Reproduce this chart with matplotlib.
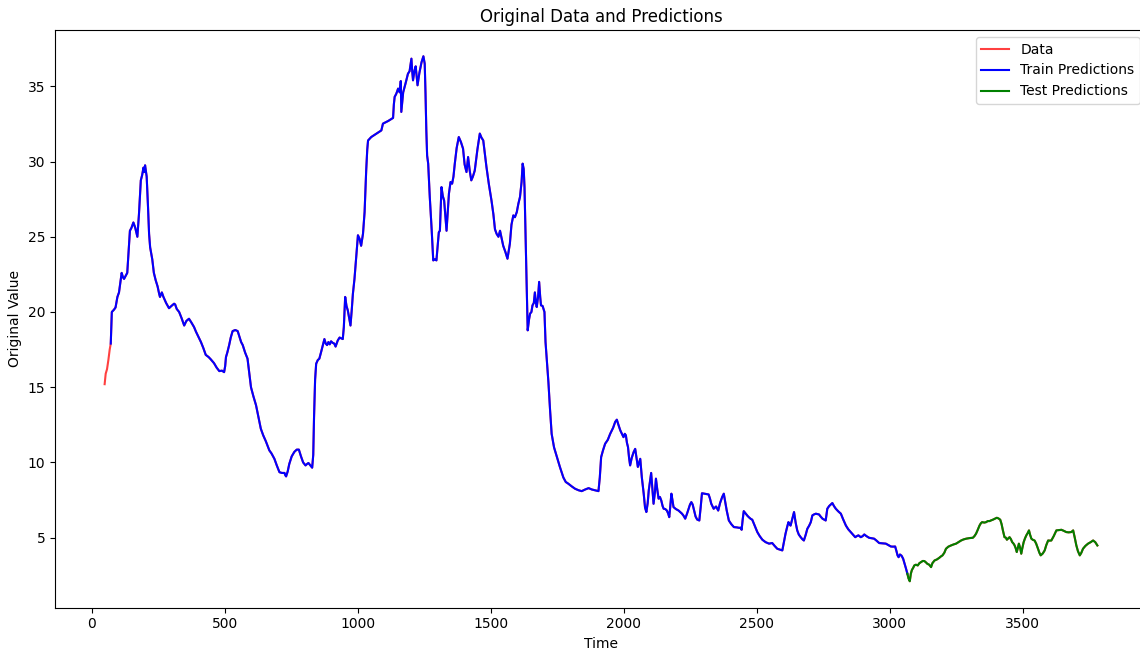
import matplotlib
matplotlib.use("Agg")
import matplotlib.pyplot as plt
import numpy as np

# ---- data ----
time = [
    49, 53, 58, 63, 68, 72, 76, 84, 90, 97, 103, 113, 118, 122, 128, 134, 139, 144, 150, 157,
    164, 172, 178, 185, 190, 195, 198, 201, 207, 212, 216, 220, 228, 234, 241, 248, 254, 257, 264, 270,
    280, 291, 300, 310, 314, 320, 329, 338, 348, 356, 366, 375, 385, 392, 400, 411, 420, 429, 440, 448,
    460, 470, 480, 490, 498, 502, 505, 510, 517, 523, 530, 540, 549, 555, 562, 568, 577, 586, 592, 599,
    608, 618, 626, 636, 645, 655, 668, 676, 687, 696, 706, 715, 725, 728, 731, 737, 743, 752, 762, 771,
    779, 787, 795, 804, 810, 815, 822, 829, 833, 836, 840, 844, 850, 856, 862, 869, 875, 880, 885, 890,
    895, 900, 906, 912, 917, 925, 932, 938, 944, 948, 953, 958, 963, 968, 973, 978, 982, 988, 994, 1001,
    1007, 1013, 1020, 1026, 1032, 1036, 1039, 1051, 1070, 1089, 1095, 1115, 1133, 1136, 1139, 1145, 1152, 1158, 1162, 1164,
    1171, 1180, 1189, 1195, 1202, 1205, 1208, 1213, 1218, 1225, 1232, 1240, 1247, 1252, 1255, 1258, 1261, 1265, 1271, 1278,
    1284, 1290, 1296, 1300, 1305, 1309, 1315, 1320, 1325, 1334, 1339, 1343, 1349, 1355, 1360, 1365, 1372, 1380, 1388, 1396,
    1402, 1409, 1415, 1421, 1427, 1433, 1440, 1450, 1459, 1465, 1472, 1478, 1484, 1493, 1503, 1510, 1516, 1522, 1529, 1535,
    1541, 1547, 1555, 1563, 1568, 1572, 1578, 1585, 1591, 1598, 1604, 1610, 1616, 1620, 1624, 1627, 1631, 1635, 1639, 1644,
    1648, 1653, 1657, 1662, 1666, 1670, 1673, 1678, 1682, 1686, 1689, 1695, 1702, 1706, 1712, 1717, 1723, 1729, 1738, 1748,
    1760, 1773, 1782, 1792, 1805, 1817, 1830, 1842, 1855, 1868, 1880, 1892, 1905, 1910, 1915, 1922, 1930, 1940, 1949, 1960,
    1968, 1974, 1980, 1987, 1993, 1999, 2004, 2008, 2012, 2016, 2020, 2024, 2030, 2037, 2043, 2048, 2053, 2058, 2062, 2068,
    2075, 2080, 2085, 2090, 2094, 2099, 2103, 2108, 2112, 2117, 2121, 2126, 2131, 2136, 2141, 2146, 2150, 2156, 2162, 2167,
    2171, 2175, 2179, 2183, 2187, 2196, 2206, 2212, 2219, 2225, 2231, 2238, 2244, 2249, 2254, 2259, 2263, 2270, 2276, 2284,
    2289, 2294, 2304, 2310, 2319, 2324, 2329, 2338, 2347, 2355, 2362, 2370, 2376, 2380, 2387, 2395, 2404, 2414, 2425, 2434,
    2439, 2443, 2447, 2451, 2458, 2465, 2470, 2477, 2483, 2492, 2502, 2511, 2521, 2533, 2546, 2558, 2567, 2577, 2587, 2596,
    2602, 2608, 2614, 2619, 2623, 2627, 2634, 2640, 2646, 2652, 2658, 2665, 2671, 2677, 2684, 2690, 2697, 2703, 2709, 2716,
    2722, 2734, 2740, 2747, 2753, 2759, 2765, 2772, 2778, 2784, 2790, 2797, 2806, 2816, 2825, 2835, 2844, 2853, 2862, 2870,
    2876, 2882, 2891, 2898, 2904, 2912, 2922, 2931, 2941, 2950, 2960, 2972, 2985, 2995, 3004, 3012, 3020, 3025, 3029, 3033,
    3038, 3044, 3050, 3055, 3061, 3066, 3070, 3075, 3079, 3083, 3088, 3092, 3098, 3105, 3111, 3117, 3124, 3130, 3136, 3141,
    3148, 3155, 3160, 3168, 3177, 3186, 3192, 3198, 3205, 3211, 3220, 3230, 3240, 3249, 3258, 3268, 3277, 3287, 3300, 3312,
    3318, 3324, 3330, 3337, 3342, 3347, 3355, 3362, 3368, 3375, 3381, 3387, 3394, 3402, 3408, 3415, 3420, 3425, 3431, 3436,
    3440, 3445, 3450, 3455, 3460, 3465, 3469, 3473, 3477, 3481, 3485, 3490, 3494, 3498, 3503, 3508, 3513, 3518, 3523, 3527,
    3532, 3538, 3544, 3550, 3557, 3562, 3567, 3575, 3582, 3588, 3595, 3601, 3607, 3616, 3626, 3635, 3645, 3654, 3663, 3672,
    3682, 3689, 3695, 3701, 3707, 3714, 3720, 3726, 3735, 3745, 3755, 3764, 3772, 3780,
]
values = [
    15.2, 15.9, 16.2, 16.8, 17.5, 17.9, 20.0, 20.15, 20.3, 21.0, 21.3, 22.6, 22.3, 22.2, 22.4, 22.6, 24.0, 25.4, 25.6, 25.95,
    25.6, 25.0, 26.5, 28.75, 29.1, 29.6, 29.3, 29.75, 29.0, 27.0, 25.2, 24.3, 23.5, 22.6, 22.1, 21.7, 21.2, 21.0, 21.3, 21.0,
    20.6, 20.25, 20.4, 20.55, 20.5, 20.2, 20.0, 19.6, 19.1, 19.4, 19.55, 19.3, 19.0, 18.7, 18.4, 18.0, 17.6, 17.15, 17.0, 16.85,
    16.6, 16.3, 16.07, 16.1, 16.0, 16.4, 17.0, 17.3, 17.8, 18.3, 18.73, 18.8, 18.73, 18.4, 18.0, 17.8, 17.3, 16.9, 16.0, 15.0,
    14.4, 13.8, 13.1, 12.24, 11.8, 11.4, 10.8, 10.6, 10.24, 9.8, 9.35, 9.3, 9.3, 9.15, 9.07, 9.4, 9.9, 10.4, 10.7, 10.85,
    10.85, 10.4, 10.0, 9.8, 9.9, 9.96, 9.8, 9.65, 10.5, 13.0, 15.5, 16.56, 16.8, 16.9, 17.3, 17.8, 18.2, 17.9, 17.8, 18.0,
    17.85, 18.05, 17.95, 17.9, 17.7, 18.1, 18.3, 18.25, 18.2, 19.0, 21.0, 20.4, 20.1, 19.6, 19.1, 20.2, 21.2, 22.2, 23.5, 25.1,
    24.87, 24.4, 25.2, 26.64, 29.4, 30.8, 31.4, 31.63, 31.85, 32.07, 32.52, 32.7, 32.9, 33.8, 34.3, 34.5, 34.85, 34.6, 35.35, 33.3,
    34.6, 35.2, 35.84, 36.0, 36.84, 36.0, 35.4, 36.0, 36.33, 35.07, 35.9, 36.6, 37.0, 36.5, 34.5, 32.07, 30.4, 29.86, 27.64, 25.5,
    23.43, 23.5, 23.43, 24.3, 25.3, 25.4, 28.3, 27.7, 27.4, 25.4, 26.8, 27.87, 28.64, 28.53, 29.0, 29.86, 30.9, 31.63, 31.3, 30.86,
    29.8, 29.3, 30.3, 29.4, 28.75, 29.0, 29.4, 30.8, 31.86, 31.6, 31.4, 30.5, 29.64, 28.5, 27.4, 26.5, 25.5, 25.2, 25.0, 25.4,
    24.9, 24.4, 24.0, 23.54, 24.1, 24.54, 25.8, 26.42, 26.3, 26.64, 27.2, 27.64, 28.64, 29.86, 29.5, 28.3, 25.0, 21.88, 18.78, 19.5,
    19.89, 20.0, 20.44, 20.6, 21.3, 20.6, 20.33, 21.0, 22.0, 21.0, 20.44, 20.4, 20.0, 18.0, 16.5, 15.3, 13.5, 11.9, 11.0, 10.4,
    9.7, 9.0, 8.7, 8.58, 8.4, 8.25, 8.15, 8.09, 8.2, 8.29, 8.2, 8.15, 8.09, 9.0, 10.35, 10.8, 11.24, 11.5, 11.9, 12.3,
    12.7, 12.84, 12.5, 12.13, 11.9, 11.68, 11.9, 11.8, 11.3, 11.02, 10.3, 9.8, 10.3, 10.68, 10.9, 10.3, 9.7, 10.0, 10.24, 9.0,
    7.92, 7.0, 6.7, 7.3, 8.14, 8.8, 9.3, 8.2, 7.25, 8.0, 8.92, 8.2, 7.59, 7.7, 7.47, 7.1, 6.92, 6.9, 6.8, 6.6,
    6.36, 7.1, 7.92, 7.5, 7.03, 6.9, 6.8, 6.7, 6.59, 6.45, 6.26, 6.6, 6.92, 7.2, 7.36, 7.2, 6.92, 6.4, 6.2, 6.14,
    7.0, 7.95, 7.92, 7.9, 7.87, 7.6, 7.25, 6.92, 7.07, 6.8, 7.3, 7.7, 7.92, 7.5, 6.8, 6.14, 5.9, 5.7, 5.68, 5.65,
    5.66, 5.52, 6.2, 6.76, 6.6, 6.45, 6.36, 6.25, 6.19, 5.8, 5.37, 5.1, 4.86, 4.7, 4.6, 4.64, 4.45, 4.26, 4.2, 4.15,
    4.7, 5.26, 5.7, 6.03, 5.9, 5.8, 6.3, 6.7, 6.0, 5.48, 5.2, 5.03, 4.9, 4.81, 5.2, 5.59, 5.8, 6.03, 6.48, 6.55,
    6.59, 6.54, 6.4, 6.26, 6.2, 6.14, 6.92, 7.1, 7.2, 7.3, 7.1, 6.92, 6.75, 6.59, 6.2, 5.8, 5.55, 5.37, 5.2, 5.03,
    5.1, 5.15, 5.03, 5.1, 5.21, 5.1, 4.99, 4.96, 4.93, 4.8, 4.64, 4.62, 4.6, 4.5, 4.41, 4.4, 4.41, 4.1, 3.82, 3.7,
    3.88, 3.8, 3.6, 3.3, 2.93, 2.6, 2.3, 2.1, 2.6, 2.85, 3.0, 3.15, 3.2, 3.15, 3.3, 3.37, 3.45, 3.44, 3.35, 3.26,
    3.2, 3.04, 3.3, 3.48, 3.55, 3.66, 3.75, 3.82, 4.0, 4.26, 4.4, 4.48, 4.55, 4.6, 4.7, 4.81, 4.88, 4.93, 4.97, 4.99,
    5.1, 5.26, 5.5, 5.8, 5.95, 6.03, 6.0, 6.03, 6.1, 6.1, 6.15, 6.19, 6.25, 6.32, 6.28, 6.19, 5.9, 5.48, 5.03, 5.0,
    4.86, 4.95, 5.03, 4.9, 4.7, 4.6, 4.48, 4.3, 4.04, 4.3, 4.6, 4.3, 3.93, 4.3, 4.7, 4.95, 5.15, 5.3, 5.48, 5.2,
    4.93, 4.85, 4.81, 4.6, 4.26, 4.0, 3.82, 3.95, 4.15, 4.5, 4.81, 4.8, 4.81, 5.1, 5.48, 5.5, 5.52, 5.45, 5.37, 5.35,
    5.37, 5.48, 5.0, 4.48, 4.1, 3.82, 4.0, 4.26, 4.45, 4.6, 4.7, 4.81, 4.7, 4.48,
]
train_start = 72      # first time step with a train prediction
test_start = 3066     # first time step with a test prediction

title = "Original Data and Predictions"
x_label = "Time"
y_label = "Original Value"
series_labels = ["Data", "Train Predictions", "Test Predictions"]

# ---- build series ----
t = np.array(time, dtype=float)
v = np.array(values, dtype=float)
train_mask = (t >= train_start) & (t <= test_start)
test_mask = t >= test_start

fig = plt.figure(figsize=(11.4, 6.5), dpi=100)
# right spine falls just outside the picture, as in the cropped reference
ax = fig.add_axes([55 / 1140, 42.5 / 650, 1092 / 1140, 577.5 / 650])

ax.plot(t, v, color="red", alpha=0.75, linewidth=1.5, label=series_labels[0])
ax.plot(t[train_mask], v[train_mask], color="blue", linewidth=1.5, label=series_labels[1])
ax.plot(t[test_mask], v[test_mask], color="green", linewidth=1.5, label=series_labels[2])

ax.set_title(title)
ax.set_xlabel(x_label)
ax.set_ylabel(y_label)
ax.legend(loc="upper right")

fig.savefig("out.png", dpi=100)
